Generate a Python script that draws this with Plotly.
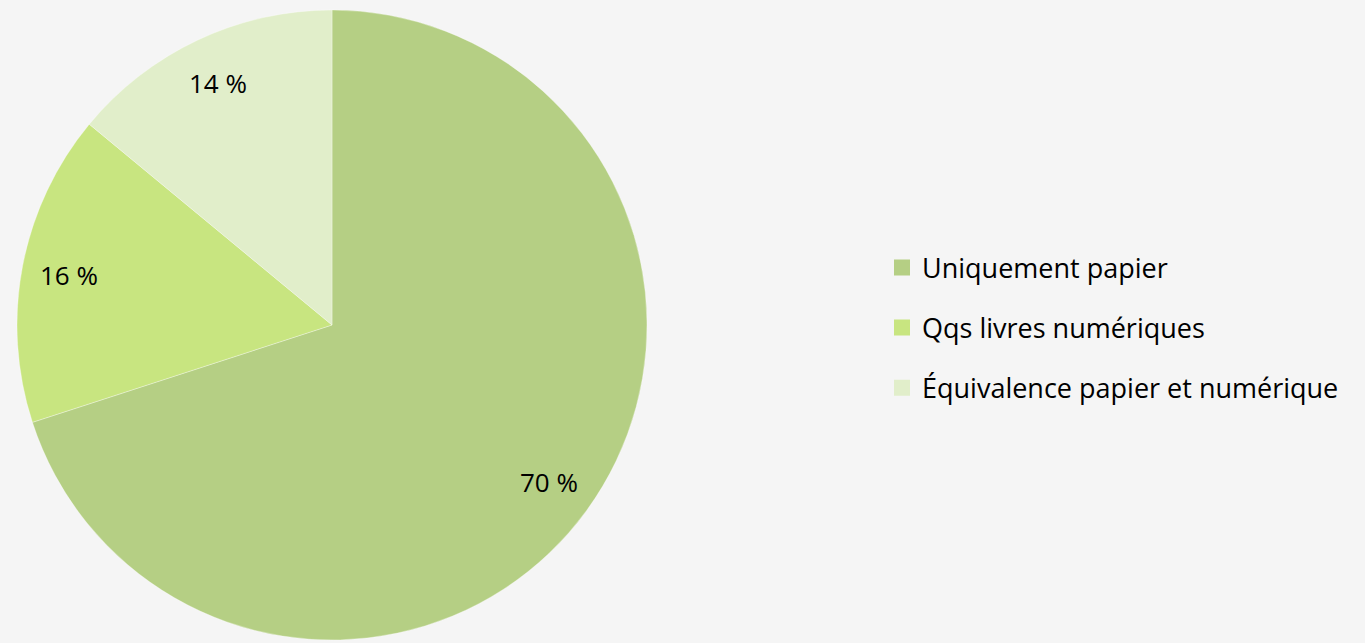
import math
import plotly.graph_objects as go

# data
labels = ['Uniquement papier', 'Qqs livres numériques', 'Équivalence papier et numérique']
values = [70, 16, 14]
colours = ['#b5cf84', '#c8e580', '#e1eeca']

W, H = 1365, 643
pie_x = [17/W, 647/W]
pie_y = [3/H, 633/H]

fig = go.Figure()

fig.add_trace(go.Pie(
    labels=labels, values=values,
    sort=False, direction='clockwise', rotation=0,
    marker=dict(colors=colours, line=dict(color='rgba(255,255,255,0.45)', width=0.7)),
    textinfo='none',
    hoverinfo='label+percent',
    showlegend=False,
    domain=dict(x=pie_x, y=pie_y),
))

# value labels sit near the rim, like the original (about 0.85 of the radius)
cx = (pie_x[0] + pie_x[1]) / 2 * W
cy = (pie_y[0] + pie_y[1]) / 2 * H
radius = (pie_x[1] - pie_x[0]) * W / 2
total = sum(values)
cum = 0
for v in values:
    ang = math.radians((cum + v / 2) / total * 360)
    cum += v
    px_ = cx + 0.85 * radius * math.sin(ang)
    py_ = cy + 0.85 * radius * math.cos(ang)
    fig.add_annotation(x=px_ / W, y=py_ / H, xref='paper', yref='paper',
                       xanchor='center', yanchor='middle',
                       text=f'{v} %', showarrow=False,
                       font=dict(family='Open Sans', size=26, color='black'))

# legend entries, one group each so that the rows can be spread out
for i, name in enumerate(labels):
    fig.add_trace(go.Scatter(
        x=[None], y=[None], mode='markers', name=name,
        legendgroup=str(i),
        marker=dict(symbol='square', size=16, color=colours[i]),
    ))

fig.update_xaxes(visible=False)
fig.update_yaxes(visible=False)

fig.update_layout(
    width=W, height=H,
    margin=dict(l=0, r=0, t=0, b=0),
    paper_bgcolor='#f5f5f5', plot_bgcolor='#f5f5f5',
    showlegend=True,
    legend=dict(x=882/W, y=0.49, xanchor='left', yanchor='middle',
                font=dict(family='Open Sans', size=27, color='black'),
                tracegroupgap=22, bgcolor='rgba(0,0,0,0)'),
)

fig.write_html('out.html', config={'displayModeBar': False},
               post_script="document.body.style.margin='0';")
